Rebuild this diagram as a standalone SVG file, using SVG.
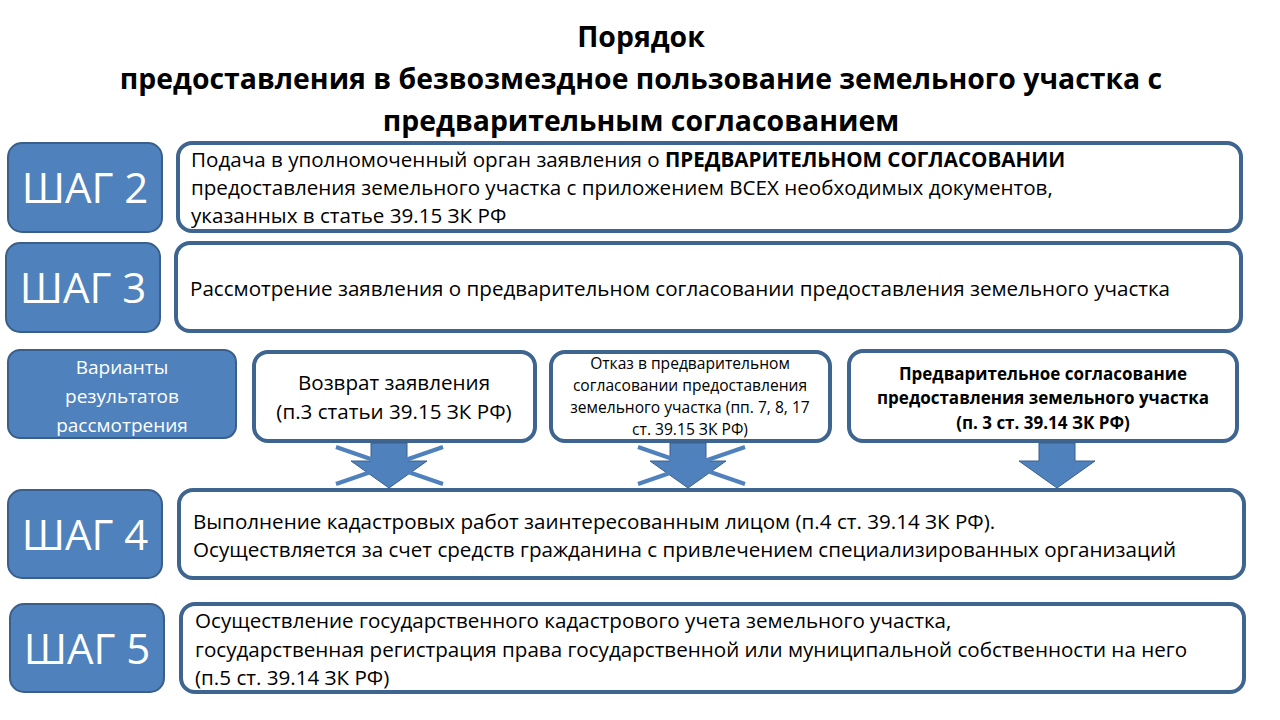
<svg xmlns="http://www.w3.org/2000/svg" width="1280" height="720" viewBox="0 0 1280 720">
<style>
text{font-family:"Open Sans","Liberation Sans",sans-serif;fill:#000}
.step{fill:#4F81BD;stroke:#3A5F8B;stroke-width:2}
.stxt{fill:#fff;font-size:42px;text-anchor:middle}
.box{fill:#fff;stroke:#3E6490;stroke-width:4}
.t{font-size:20.6px}
.c{text-anchor:middle}
.arr{fill:#4F81BD;stroke:#3A5F8B;stroke-width:1}
.x{stroke:#4F81BD;stroke-width:4}
</style>
<rect width="1280" height="720" fill="#fff"/>
<g id="title" font-weight="bold" font-size="28.4" text-anchor="middle">
<text x="641" y="47">Порядок</text>
<text x="641" y="89">предоставления в безвозмездное пользование земельного участка с</text>
<text x="641" y="131">предварительным согласованием</text>
</g>
<g id="s2"><rect class="step" x="8" y="143" width="154" height="89" rx="14"/><text class="stxt" x="85" y="203">ШАГ 2</text></g>
<g id="b2"><rect class="box" x="178" y="143" width="1063" height="88" rx="14"/>
<text class="t" x="191" y="167">Подача в уполномоченный орган заявления о <tspan font-weight="bold">ПРЕДВАРИТЕЛЬНОМ СОГЛАСОВАНИИ</tspan></text>
<text class="t" x="191" y="195">предоставления земельного участка с приложением ВСЕХ необходимых документов,</text>
<text class="t" x="191" y="223">указанных в статье 39.15 ЗК РФ</text></g>
<g id="s3"><rect class="step" x="6" y="243" width="154" height="89" rx="14"/><text class="stxt" x="83" y="303">ШАГ 3</text></g>
<g id="b3"><rect class="box" x="176" y="243" width="1065" height="88" rx="14"/>
<text class="t" x="190" y="296">Рассмотрение заявления о предварительном согласовании предоставления земельного участка</text></g>
<g id="var"><rect class="step" x="8" y="350" width="228" height="88" rx="12"/>
<g font-size="19" text-anchor="middle"><text x="122" y="374" style="fill:#fff">Варианты</text><text x="122" y="403" style="fill:#fff">результатов</text><text x="122" y="432" style="fill:#fff">рассмотрения</text></g></g>
<g id="r1"><rect class="box" x="254" y="352" width="281" height="89" rx="14"/>
<text class="t c" x="394" y="390">Возврат заявления</text><text class="t c" x="394" y="419">(п.3 статьи 39.15 ЗК РФ)</text></g>
<g id="r2"><rect class="box" x="551" y="352" width="279" height="89" rx="14"/>
<g font-size="15.6" text-anchor="middle"><text x="690" y="369">Отказ в предварительном</text><text x="690" y="391">согласовании предоставления</text><text x="690" y="413">земельного участка (пп. 7, 8, 17</text><text x="690" y="435">ст. 39.15 ЗК РФ)</text></g></g>
<g id="r3"><rect class="box" x="849" y="351" width="388" height="90" rx="14"/>
<g font-size="17" font-weight="bold" text-anchor="middle"><text x="1043" y="380">Предварительное согласование</text><text x="1043" y="404">предоставления земельного участка</text><text x="1043" y="429">(п. 3 ст. 39.14 ЗК РФ)</text></g></g>
<g id="connectors">
<path class="arr" d="M371,443 h36 v18 h20 l-38,27 l-38,-27 h20 z"/>
<path class="arr" d="M670,443 h36 v18 h20 l-38,27 l-38,-27 h20 z"/>
<path class="arr" d="M1039,443 h36 v18 h20 l-38,27 l-38,-27 h20 z"/>
<line class="x" x1="336" y1="447" x2="443" y2="484"/><line class="x" x1="336" y1="484" x2="443" y2="447"/>
<line class="x" x1="638" y1="447" x2="745" y2="484"/><line class="x" x1="638" y1="484" x2="745" y2="447"/>
</g>
<g id="s4"><rect class="step" x="8" y="490" width="154" height="88" rx="14"/><text class="stxt" x="85" y="550">ШАГ 4</text></g>
<g id="b4"><rect class="box" x="179" y="490" width="1065" height="88" rx="14"/>
<text class="t" x="193" y="529">Выполнение кадастровых работ заинтересованным лицом (п.4 ст. 39.14 ЗК РФ).</text>
<text class="t" x="193" y="557">Осуществляется за счет средств гражданина с привлечением специализированных организаций</text></g>
<g id="s5"><rect class="step" x="10" y="604" width="154" height="88" rx="14"/><text class="stxt" x="87" y="664">ШАГ 5</text></g>
<g id="b5"><rect class="box" x="181" y="604" width="1063" height="88" rx="14"/>
<text class="t" x="195" y="628">Осуществление государственного кадастрового учета земельного участка,</text>
<text class="t" x="195" y="657">государственная регистрация права государственной или муниципальной собственности на него</text>
<text class="t" x="195" y="685">(п.5 ст. 39.14 ЗК РФ)</text></g>
</svg>
